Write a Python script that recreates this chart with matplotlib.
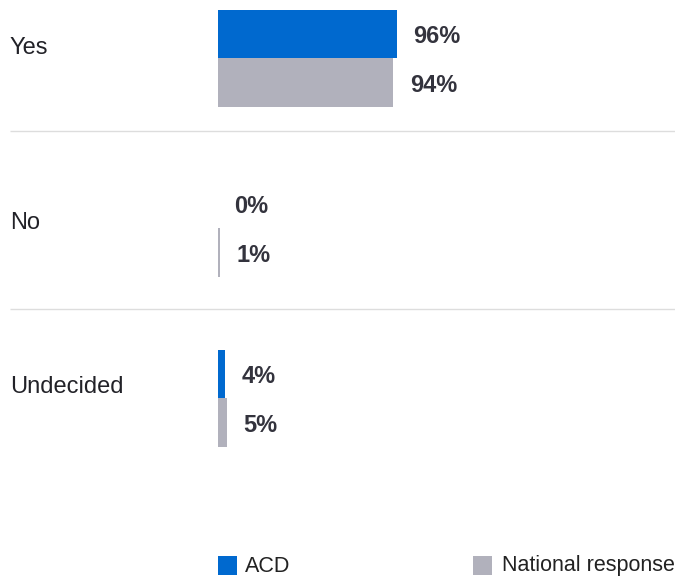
import matplotlib
matplotlib.use("Agg")
import matplotlib.pyplot as plt
import matplotlib.transforms as mtransforms
from matplotlib.patches import Rectangle

categories = ["Yes", "No", "Undecided"]
acd = [96, 0, 4]
national = [94, 1, 5]
series_names = ["ACD", "National response"]
colors = ["#0069CF", "#B1B1BC"]

plt.rcParams['font.family'] = ['Liberation Sans', 'DejaVu Sans']

W, H = 675, 577
fig = plt.figure(figsize=(W / 100, H / 100), dpi=100)
ax = fig.add_axes([0, 0, 1, 1])
ax.set_axis_off()

x0 = 218.0        # pixel of zero
pxper = 1.865     # pixels per percent
y0 = 58.0         # pixel centre of first group
step = 170.0      # pixels between groups
ax.set_xlim(-x0 / pxper, (W - x0) / pxper)
ax.set_ylim((H - y0) / step, -y0 / step)

bh = 48.5 / step
for i, (a, n) in enumerate(zip(acd, national)):
    ax.barh(i - bh / 2, a, height=bh, color=colors[0], linewidth=0)
    ax.barh(i + bh / 2, n, height=bh, color=colors[1], linewidth=0)
    for v, yy in ((a, i - bh / 2), (n, i + bh / 2)):
        ax.annotate(f"{v}%", xy=(v, yy), xytext=(11.8, -9.5 * 0.72), textcoords="offset points",
                    ha="left", va="baseline", fontsize=17, fontweight="bold", color="#33333d")

trans = mtransforms.blended_transform_factory(fig.transFigure, ax.transData)
label_baseline_offsets = [-4, 1, -5]   # pixels relative to group centre
for i, c in enumerate(categories):
    ax.text(10 / W, i + label_baseline_offsets[i] / step, c, transform=trans,
            ha="left", va="baseline", fontsize=17, color="#222228")

# separators
for ypix in (131, 309):
    ax.plot([10 / W, 1], [(ypix - y0) / step] * 2, transform=trans,
            color="#dddddd", linewidth=1, solid_capstyle="butt")

# legend
leg = [(218, 245), (473, 502)]
for (sx, tx), name, col in zip(leg, series_names, colors):
    fig.patches.append(Rectangle((sx / W, 1 - 575 / H), 19 / W, 19 / H,
                                 transform=fig.transFigure, color=col, linewidth=0))
    fig.text(tx / W, 1 - 566 / H, name, ha="left", va="center", fontsize=15.5, color="#222222")

fig.savefig("out.png", dpi=100)
